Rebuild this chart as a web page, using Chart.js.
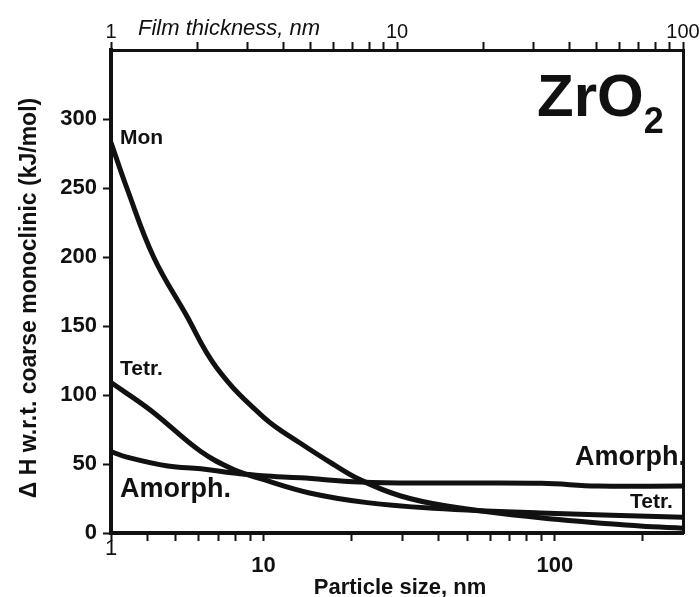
<!DOCTYPE html>
<html lang="en">
<head>
  <meta charset="UTF-8">
  <title>ZrO2 enthalpy vs particle size</title>
  <script src="https://cdn.jsdelivr.net/npm/chart.js"></script>
  <style>
    html, body { margin: 0; padding: 0; background: #fff; }
  </style>
</head>
<body>

  <canvas id="zrChart" width="700" height="597"></canvas>

  <script>
    const FONT = '"Liberation Sans", Arial, sans-serif';
    const INK = '#111';

    // Mon. curve: particle size (nm) and enthalpy (kJ/mol)
    const monSize = [3, 3.4, 4.2, 5.4, 6.9, 10, 13.4, 17.3, 21.5, 29.4, 42.6, 89, 196, 275];
    const monH = [283, 250, 200, 159, 120, 84, 65, 50, 38.5, 27, 19.5, 11, 5, 3.5];

    // Tetr. curve
    const tetSize = [3, 4.1, 6.1, 7.9, 9.9, 14.4, 22.7, 38.2, 89, 275];
    const tetH = [109, 89, 59, 46, 39, 29, 22, 18, 14.5, 11.5];

    // Amorph. curve
    const amoSize = [3, 3.4, 4.7, 6.1, 7.9, 9.9, 13.4, 21.5, 38.2, 90, 140, 275];
    const amoH = [59, 55, 48.5, 46.5, 43.5, 41.5, 40, 37, 36.2, 36, 34, 34];

    // axes
    const yTicks = [0, 50, 100, 150, 200, 250, 300];
    const bottomTicks = [3, 4, 5, 6, 7, 8, 9, 10, 20, 30, 40, 50, 60, 70, 80, 90, 100, 200];
    const bottomLabelValues = [3, 10, 100];
    const bottomLabelText = ['1', '10', '100'];
    const topTicks = [1, 2, 3, 4, 5, 6, 7, 8, 9, 10, 20, 30, 40, 50, 60, 70, 80, 90, 100];
    const topLabelValues = [1, 10, 100];

    function pts(xs, ys) {
      return xs.map((x, i) => ({ x: x, y: ys[i] }));
    }

    const tickGrid = { drawOnChartArea: false, tickLength: 8, tickWidth: 2, tickColor: INK };

    // free text: axis titles, curve names, formula
    const textPlugin = {
      id: 'textLabels',
      afterDraw(chart) {
        const c = chart.ctx;
        c.save();
        c.fillStyle = INK;
        c.textBaseline = 'alphabetic';
        const put = (txt, x, y, font, align) => {
          c.font = font;
          c.textAlign = align || 'left';
          c.fillText(txt, x, y);
        };

        put('Film thickness, nm', 138, 35, 'italic 22px ' + FONT);
        put('Particle size, nm', 400, 594, 'bold 22px ' + FONT, 'center');

        c.save();
        c.translate(36, 298);
        c.rotate(-Math.PI / 2);
        put('\u0394 H w.r.t. coarse monoclinic (kJ/mol)', 0, 0, 'bold 23px ' + FONT, 'center');
        c.restore();

        put('ZrO', 537, 116, 'bold 60px ' + FONT);
        const w = c.measureText('ZrO').width;
        put('2', 537 + w, 133, 'bold 36px ' + FONT);

        put('Mon', 120, 144, 'bold 21px ' + FONT);
        put('Tetr.', 120, 375, 'bold 21px ' + FONT);
        put('Amorph.', 120, 497, 'bold 27px ' + FONT);
        put('Amorph.', 575, 465, 'bold 27px ' + FONT);
        put('Tetr.', 630, 508, 'bold 21px ' + FONT);
        c.restore();
      }
    };

    const ctx = document.getElementById('zrChart').getContext('2d');
    new Chart(ctx, {
      type: 'line',
      data: {
        datasets: [
          { label: 'Mon', data: pts(monSize, monH) },
          { label: 'Tetr.', data: pts(tetSize, tetH) },
          { label: 'Amorph.', data: pts(amoSize, amoH) }
        ]
      },
      options: {
        responsive: false,
        animation: false,
        layout: { padding: 0 },
        elements: {
          point: { radius: 0 },
          line: { borderColor: INK, borderWidth: 5, tension: 0.4, fill: false }
        },
        plugins: {
          legend: { display: false },
          tooltip: { enabled: false }
        },
        scales: {
          x: {
            type: 'logarithmic',
            position: 'bottom',
            min: 3,
            max: 275,
            afterBuildTicks: s => { s.ticks = bottomTicks.map(v => ({ value: v })); },
            afterFit: s => { s.height = 64; },
            grid: tickGrid,
            border: { color: INK, width: 4 },
            ticks: {
              autoSkip: false,
              maxRotation: 0,
              minRotation: 0,
              padding: 0,
              color: INK,
              font: c => ({
                family: FONT,
                size: 22,
                weight: c.tick && c.tick.value === 3 ? 'normal' : 'bold',
                lineHeight: 0.75
              }),
              callback: v => {
                const i = bottomLabelValues.indexOf(v);
                if (i < 0) return '';
                return i === 0 ? bottomLabelText[i] : ['', bottomLabelText[i]];
              }
            }
          },
          x2: {
            type: 'logarithmic',
            position: 'top',
            min: 1,
            max: 100,
            afterBuildTicks: s => { s.ticks = topTicks.map(v => ({ value: v })); },
            afterFit: s => { s.height = 50; },
            grid: tickGrid,
            border: { color: INK, width: 3 },
            ticks: {
              autoSkip: false,
              maxRotation: 0,
              minRotation: 0,
              padding: 0,
              color: INK,
              font: { family: FONT, size: 20, lineHeight: 1 },
              callback: v => topLabelValues.includes(v) ? String(v) : ''
            }
          },
          y: {
            min: 0,
            max: 350,
            afterBuildTicks: s => { s.ticks = yTicks.map(v => ({ value: v })); },
            afterFit: s => { s.width = 111; },
            grid: tickGrid,
            border: { color: INK, width: 4 },
            ticks: {
              padding: 6,
              color: INK,
              font: { family: FONT, size: 22, weight: 'bold' }
            }
          },
          yR: {
            position: 'right',
            min: 0,
            max: 350,
            afterFit: s => { s.width = 17; },
            grid: { drawOnChartArea: false, drawTicks: false },
            border: { color: INK, width: 3 },
            ticks: { display: false }
          }
        }
      },
      plugins: [textPlugin]
    });
  </script>

</body>
</html>
